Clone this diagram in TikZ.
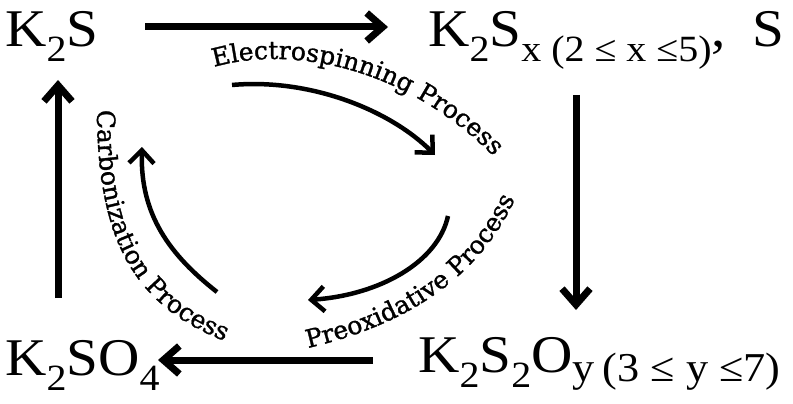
\documentclass[tikz,border=0pt]{standalone}
\usepackage{fontspec}
\usetikzlibrary{arrows.meta,decorations.text}
\newfontfamily\labfont[FakeStretch=1.08]{Liberation Serif}
\newfontfamily\procfamily[FakeBold=1.2]{DejaVu Serif}
\newcommand\pfont{\procfamily\fontsize{25}{28}\selectfont}
\newcommand\lsub[3]{\raisebox{-#1}{\fontsize{#2}{#2}\selectfont #3}}
\begin{document}
\begin{tikzpicture}[x=1pt,y=-1pt,
  chem/.style={inner sep=0pt, anchor=base west, font=\labfont\fontsize{53}{60}\selectfont},
  bigarrow/.style={line width=7pt, -{Straight Barb[length=16pt,width=28pt]}},
  cyclearrow/.style={line width=4.5pt, -{Straight Barb[length=13pt,width=25pt]}},
  proclabel/.style={decorate, decoration={text along path, text align=left, raise=0pt}}]
\useasboundingbox (0,0) rectangle (793,404);
% species
\node[chem] (k2s) at (5,47) {K\lsub{15pt}{37}{2}S};
\node[chem] (k2sx) at (428,47) {K\lsub{15pt}{37}{2}S\lsub{15pt}{37}{x (2 ≤ x ≤5)},\hspace{27pt}S};
\node[chem] (k2s2oy) at (418,372) {K\lsub{15pt}{37}{2}S\lsub{15pt}{37}{2}O\lsub{9pt}{41}{y\hspace{8pt}(3 ≤ y ≤7)}};
\node[chem] (k2so4) at (5,375) {K\lsub{15pt}{37}{2}SO\lsub{15pt}{37}{4}};
% main arrows
\coordinate (ta) at (145,27); \coordinate (tb) at (388,27);
\coordinate (ra) at (576,95); \coordinate (rb) at (576,310);
\coordinate (ba) at (373,360); \coordinate (bb) at (158,360);
\coordinate (la) at (58,298); \coordinate (lb) at (58,80);
\draw[bigarrow] (ta) -- (tb);
\draw[bigarrow] (ra) -- (rb);
\draw[bigarrow] (ba) -- (bb);
\draw[bigarrow] (la) -- (lb);
% cycle arrows
\coordinate (c1a) at (232,85); \coordinate (c1b) at (435,155);
\coordinate (c2a) at (448,216); \coordinate (c2b) at (308,300);
\coordinate (c3a) at (217,292); \coordinate (c3b) at (142,147);
\draw[cyclearrow] (c1a) .. controls (310,78) and (390,110) .. (c1b);
\draw[cyclearrow] (c2a) .. controls (438,262) and (380,295) .. (c2b);
\draw[cyclearrow] (c3a) .. controls (170,255) and (140,215) .. (c3b);
% process labels
\path[proclabel, decoration={text={|\pfont|Electrospinning Process}}]
  (214,67) .. controls (290,45) and (410,65) .. (505,168);
\path[proclabel, decoration={text={|\pfont|Carbonization Process}}]
  (97,110) .. controls (97,250) and (140,315) .. (245,348);
\path[proclabel, decoration={text={|\pfont|Preoxidative Process}}]
  (308,348) .. controls (394,328) and (488,283) .. (524,176);
\end{tikzpicture}
\end{document}
